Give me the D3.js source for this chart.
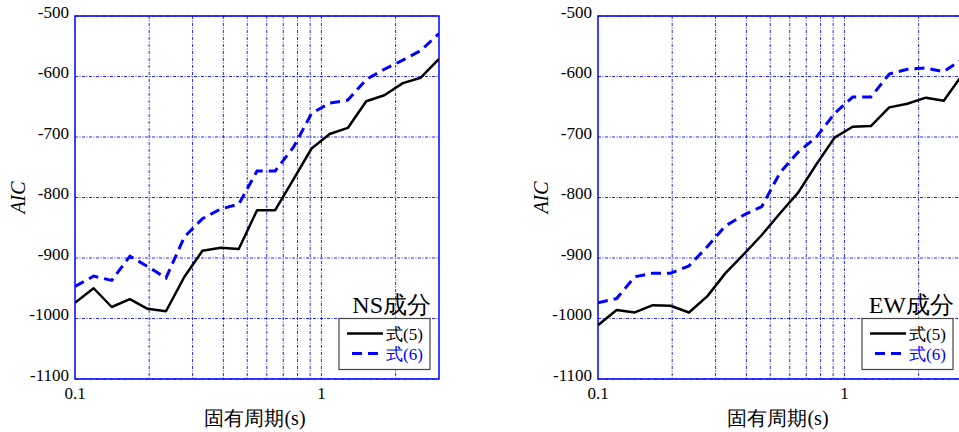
<!DOCTYPE html>
<html>
<head>
<meta charset="utf-8">
<script src="https://cdn.jsdelivr.net/npm/d3@7"></script>
<style>
  body { margin: 0; background: #fff; }
  svg { display: block; }
</style>
</head>
<body>
<div id="chart"></div>
<script>
// periods (s), log spaced 0.1 .. 3
var periods = [0.1, 0.119, 0.141, 0.167, 0.197, 0.234, 0.278, 0.329, 0.39, 0.462,
    0.548, 0.649, 0.77, 0.912, 1.08, 1.28, 1.52, 1.8, 2.14, 2.53, 3.0];

// NS component
var nsEq5 = [-974, -950, -981, -968, -984, -988, -931, -888, -883, -885,
    -821, -821, -770, -719, -695, -685, -641, -631, -611, -602, -571];
var nsEq6 = [-947, -930, -937, -897, -914, -933, -865, -835, -819, -811,
    -756, -756, -717, -661, -644, -639, -605, -588, -573, -557, -529];

// EW component
var ewEq5 = [-1011, -986, -990, -978, -979, -990, -963, -925, -894, -862,
    -826, -792, -745, -701, -683, -682, -651, -645, -635, -640, -598];
var ewEq6 = [-974, -967, -931, -925, -925, -913, -881, -847, -829, -815,
    -759, -725, -700, -661, -634, -634, -596, -588, -586, -592, -572];

var yTicks = [-500, -600, -700, -800, -900, -1000, -1100];
var xGrid = [0.2, 0.3, 0.4, 0.5, 0.6, 0.7, 0.8, 0.9, 1, 2];
var xTickLabels = [0.1, 1];
var seriesNames = ["式(5)", "式(6)"];

var outerWidth = 959,
    outerHeight = 432,
    width = 364,
    height = 363;

var serif = "'Liberation Serif', 'Times New Roman', 'DejaVu Serif', serif";

var svg = d3.select("#chart")
    .append("svg")
    .attr("width", outerWidth)
    .attr("height", outerHeight)
    .style("font-family", serif);

var blue = "#0000ff";

function panel(left, top, title, eq5, eq6) {
    var g = svg.append("g")
        .attr("transform", "translate(" + left + "," + top + ")");

    var x = d3.scaleLog().domain([0.1, 3]).range([0, width]);
    var y = d3.scaleLinear().domain([-1100, -500]).range([height, 0]);

    // grid
    g.selectAll(".vgrid")
        .data(xGrid)
        .enter().append("line")
        .attr("x1", function(d) { return x(d); })
        .attr("x2", function(d) { return x(d); })
        .attr("y1", 0)
        .attr("y2", height)
        .attr("stroke", blue)
        .attr("stroke-width", 1)
        .attr("stroke-dasharray", "3,1.5,1,1.5")
        .attr("opacity", 0.85);

    g.selectAll(".hgrid")
        .data(yTicks)
        .enter().append("line")
        .attr("x1", 0)
        .attr("x2", width)
        .attr("y1", function(d) { return y(d); })
        .attr("y2", function(d) { return y(d); })
        .attr("stroke", blue)
        .attr("stroke-width", 1)
        .attr("stroke-dasharray", "3,1.5,1,1.5")
        .attr("opacity", 0.85);

    // frame
    g.append("rect")
        .attr("width", width)
        .attr("height", height)
        .attr("fill", "none")
        .attr("stroke", blue)
        .attr("stroke-width", 1.5);

    // y tick labels
    g.selectAll(".ylab")
        .data(yTicks)
        .enter().append("text")
        .attr("x", -6)
        .attr("y", function(d) { return y(d); })
        .attr("dy", "0.1em")
        .attr("text-anchor", "end")
        .style("font-family", serif)
        .style("font-size", "17px")
        .text(function(d) { return d; });

    // x tick labels
    g.selectAll(".xlab")
        .data(xTickLabels)
        .enter().append("text")
        .attr("x", function(d) { return x(d); })
        .attr("y", height + 20)
        .attr("text-anchor", "middle")
        .style("font-family", serif)
        .style("font-size", "17px")
        .text(function(d) { return d; });

    // axis titles
    g.append("text")
        .attr("transform", "translate(" + (-50) + "," + (height / 2) + ") rotate(-90)")
        .attr("text-anchor", "middle")
        .style("font-family", serif)
        .style("font-size", "20px")
        .style("font-style", "italic")
        .text("AIC");

    g.append("text")
        .attr("x", 180)
        .attr("y", height + 46)
        .attr("text-anchor", "middle")
        .style("font-family", serif)
        .style("font-size", "20px")
        .text("固有周期(s)");

    var line = d3.line()
        .x(function(d, i) { return x(periods[i]); })
        .y(function(d) { return y(d); });

    var clipId = "clip" + left;
    g.append("clipPath").attr("id", clipId)
        .append("rect").attr("width", width).attr("height", height);

    g.append("path")
        .datum(eq6)
        .attr("clip-path", "url(#" + clipId + ")")
        .attr("d", line)
        .attr("fill", "none")
        .attr("stroke", blue)
        .attr("stroke-width", 3)
        .attr("stroke-dasharray", "10,6");

    g.append("path")
        .datum(eq5)
        .attr("clip-path", "url(#" + clipId + ")")
        .attr("d", line)
        .attr("fill", "none")
        .attr("stroke", "#000")
        .attr("stroke-width", 2.5)
        .attr("stroke-linejoin", "round");

    // legend
    var lx = width - 100, ly = y(-1000);
    g.append("text")
        .attr("x", width - 8)
        .attr("y", ly - 6)
        .attr("text-anchor", "end")
        .style("font-family", serif)
        .style("font-size", "24px")
        .text(title);

    var leg = g.append("g").attr("transform", "translate(" + lx + "," + ly + ")");
    leg.append("rect")
        .attr("width", 91)
        .attr("height", 51)
        .attr("fill", "#fff")
        .attr("stroke", "#444")
        .attr("stroke-width", 1.2);

    leg.selectAll(".legline")
        .data(seriesNames)
        .enter().append("line")
        .attr("x1", function(d, i) { return i == 0 ? 8 : 13; })
        .attr("x2", 44)
        .attr("y1", function(d, i) { return 15 + i * 20; })
        .attr("y2", function(d, i) { return 15 + i * 20; })
        .attr("stroke", function(d, i) { return i == 0 ? "#000" : blue; })
        .attr("stroke-width", function(d, i) { return i == 0 ? 2.5 : 3; })
        .attr("stroke-dasharray", function(d, i) { return i == 0 ? null : "10,6"; });

    leg.selectAll(".legtext")
        .data(seriesNames)
        .enter().append("text")
        .attr("x", 47)
        .attr("y", function(d, i) { return 21 + i * 20; })
        .style("font-family", serif)
        .style("font-size", "17px")
        .attr("fill", function(d, i) { return i == 0 ? "#000" : blue; })
        .text(function(d) { return d; });
}

panel(75, 16, "NS成分", nsEq5, nsEq6);
panel(598, 16, "EW成分", ewEq5, ewEq6);
</script>
</body>
</html>
